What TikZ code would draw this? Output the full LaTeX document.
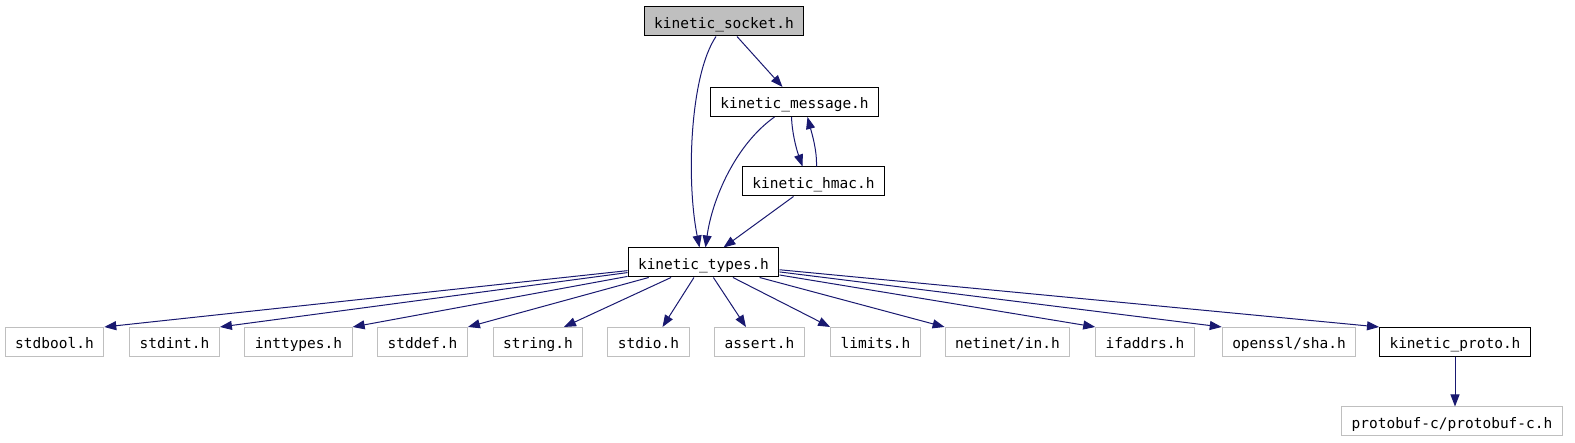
\documentclass[tikz,border=0pt]{standalone}
\usepackage{fontspec}
\setmonofont{DejaVu Sans Mono}
\usepackage{xcolor}
\usepackage{tikz}
\usetikzlibrary{arrows.meta, positioning}

\definecolor{edgeblue}{HTML}{191970}
\definecolor{sysgray}{HTML}{BFBFBF}

\begin{document}
\begin{tikzpicture}[
    x=1pt, y=-1pt,
    every node/.style={font=\ttfamily\fontsize{14.5}{17}\selectfont, inner xsep=10pt, inner ysep=0pt,
        text height=14pt, text depth=0pt, minimum height=29pt},
    hdr/.style={draw=black, line width=1pt, fill=white},
    sys/.style={draw=sysgray, line width=1pt, fill=white},
    root/.style={draw=black, line width=1pt, fill=sysgray},
    arrow/.style={-{Triangle[length=12pt, width=9pt, fill=edgeblue]}, draw=edgeblue, line width=1pt}
]
\useasboundingbox (0,0) rectangle (1575,443);

% Project headers
\node[root] (socket) at (724,21.5) {kinetic\_socket.h};
\node[hdr] (message) at (794.5,102) {kinetic\_message.h};
\node[hdr] (hmac) at (813.5,181.5) {kinetic\_hmac.h};
\node[hdr] (types) at (703.5,262.5) {kinetic\_types.h};

% System headers
\node[sys] (stdbool) at (54.5,342) {stdbool.h};
\node[sys] (stdint) at (174.5,342) {stdint.h};
\node[sys] (inttypes) at (298.5,342) {inttypes.h};
\node[sys] (stddef) at (422.5,342) {stddef.h};
\node[sys] (string) at (538,342) {string.h};
\node[sys] (stdio) at (648.5,342) {stdio.h};
\node[sys] (assert) at (759.5,342) {assert.h};
\node[sys] (limits) at (875.5,342) {limits.h};
\node[sys] (netinet) at (1007.5,342) {netinet/in.h};
\node[sys] (ifaddrs) at (1145,342) {ifaddrs.h};
\node[sys] (openssl) at (1289,342) {openssl/sha.h};
\node[hdr] (proto) at (1455,342) {kinetic\_proto.h};
\node[sys] (protobuf) at (1452,421.5) {protobuf-c/protobuf-c.h};

% Upper includes
\draw[arrow] ([xshift=-8pt]socket.south) .. controls (690,75) and (686,180) .. ([xshift=-4pt]types.north);
\draw[arrow] ([xshift=13pt]socket.south) -- ([xshift=-12pt]message.north);
\draw[arrow] ([xshift=-20pt]message.south) .. controls (735,145) and (712,200) .. ([xshift=2pt]types.north);
\draw[arrow] ([xshift=-3pt]message.south) .. controls (792,132) and (796,148) .. ([xshift=-11pt]hmac.north);
\draw[arrow] ([xshift=3pt]hmac.north) .. controls (817,150) and (812,134) .. ([xshift=13pt]message.south);
\draw[arrow] ([xshift=-20pt]hmac.south) -- ([xshift=20pt]types.north);

% kinetic_types.h includes
\draw[arrow] (types) -- (stdbool.north east);
\draw[arrow] (types) -- (stdint.north east);
\draw[arrow] (types) -- (inttypes.north east);
\draw[arrow] (types) -- (stddef.north east);
\draw[arrow] (types) -- (string.30);
\draw[arrow] (types) -- (stdio.47);
\draw[arrow] (types) -- (assert.132);
\draw[arrow] (types) -- (limits.north west);
\draw[arrow] (types) -- (netinet.north west);
\draw[arrow] (types) -- (ifaddrs.north west);
\draw[arrow] (types) -- (openssl.north west);
\draw[arrow] (types) -- (proto.north west);

\draw[arrow] (proto.south) -- (proto.south |- protobuf.north);

\end{tikzpicture}
\end{document}
